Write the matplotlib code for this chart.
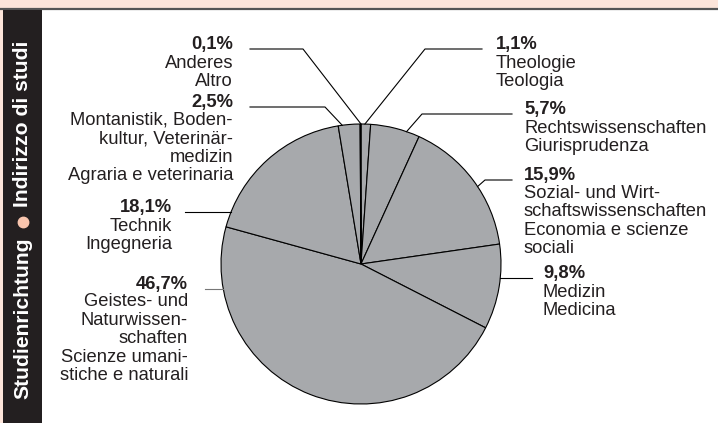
import matplotlib
matplotlib.use('Agg')
import matplotlib.pyplot as plt
import matplotlib.patches as mpatches
import numpy as np

plt.rcParams['font.family'] = ['Liberation Sans', 'DejaVu Sans']

# shares in percent, clockwise from 12 o'clock
shares = [1.1, 5.7, 15.9, 9.8, 46.7, 18.1, 2.5, 0.1]
names = [
    "Theologie\nTeologia",
    "Rechtswissenschaften\nGiurisprudenza",
    "Sozial- und Wirt-\nschaftswissenschaften\nEconomia e scienze\nsociali",
    "Medizin\nMedicina",
    "Geistes- und\nNaturwissen-\nschaften\nScienze umani-\nstiche e naturali",
    "Technik\nIngegneria",
    "Montanistik, Boden-\nkultur, Veterinär-\nmedizin\nAgraria e veterinaria",
    "Anderes\nAltro",
]
side_title_de = "Studienrichtung"
side_title_it = "Indirizzo di studi"

W, H = 718, 423
PEACH = '#fde5da'
DARK = '#231f20'
GRAY = '#a7a9ac'

# label layout in pixels (from top-left): rim angle, elbow x/y, line end x, text x, side
layout = [
    (88.4, 425, 49, 482, 496, 'left'),
    (71.0, 422, 114, 512, 524, 'left'),
    (33.6, 485, 180, 512, 524, 'left'),
    (-5.7, None, 278, 532, 543, 'left'),
    (190.0, None, 289, 205, 188, 'right'),
    (158.0, None, 212, 185, 172, 'right'),
    (97.7, 325, 107, 250, 233, 'right'),
    (90.0, 303, 49, 250, 233, 'right'),
]

cx, cy, r = 361, 264, 140
line_h = 18.0


def Y(y):
    return H - y


fig = plt.figure(figsize=(W / 100, H / 100), dpi=100)
ax = fig.add_axes([0, 0, 1, 1])

# background pieces
ax.add_patch(mpatches.Rectangle((0, Y(9)), W, 9, color=PEACH, lw=0, zorder=0))
ax.add_patch(mpatches.Rectangle((0, 0), 3, H, color=PEACH, lw=0, zorder=0))
ax.plot([0, W], [Y(9), Y(9)], color='#555555', lw=1.6, zorder=1)
ax.add_patch(mpatches.Rectangle((3, 0), 39, Y(10), color=DARK, lw=0, zorder=1))

wedges, _ = ax.pie(shares, center=(cx, Y(cy)), radius=r, startangle=90,
                   counterclock=False, colors=[GRAY] * len(shares),
                   wedgeprops=dict(edgecolor='black', linewidth=0.8))

fs = 13.2
for share, name, (ang, ex, ey, lx, tx, side) in zip(shares, names, layout):
    a = np.radians(ang)
    px = cx + r * np.cos(a)
    py = Y(cy) + r * np.sin(a)
    if ex is None:
        xs, ys = [px, lx], [Y(ey), Y(ey)]
    else:
        xs, ys = [px, ex, lx], [py, Y(ey), Y(ey)]
    lc = '#777777' if share > 40 else 'black'
    ax.plot(xs, ys, color=lc, lw=0.8, zorder=3)
    pct = f"{share:.1f}%".replace('.', ',')
    ax.text(tx, Y(ey), pct, ha=side, va='baseline', fontsize=fs,
            fontweight='bold', color='#231f20')
    n = name.count('\n') + 1
    # multi-line baseline alignment uses the last line
    ax.text(tx, Y(ey + 1 + line_h * n), name, ha=side, va='baseline',
            fontsize=fs, color='#231f20', linespacing=1.115)

# vertical side title
ax.text(23, Y(237), side_title_de, rotation=90, ha='center', va='top',
        color='white', fontsize=15.2, fontweight='bold')
ax.plot([23], [Y(222)], 'o', color='#f9c5ae', markersize=7.5, zorder=3)
ax.text(23, Y(207), side_title_it, rotation=90, ha='center', va='bottom',
        color='white', fontsize=15.2, fontweight='bold')

ax.set_xlim(0, W)
ax.set_ylim(0, H)
ax.set_aspect('auto')
ax.axis('off')

fig.savefig('out.png', dpi=100, facecolor='white')
